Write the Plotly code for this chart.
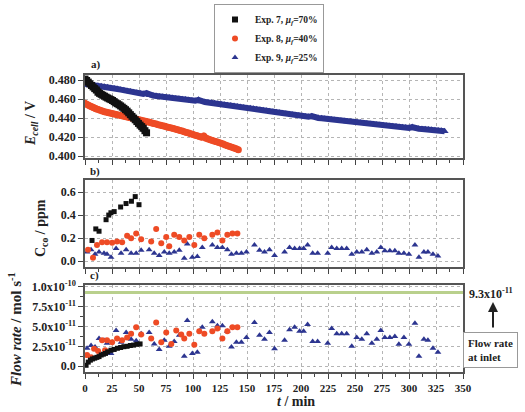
import plotly.graph_objects as go

# ---------------- data ----------------
# Panel a: cell voltage (V)
t_e9 = [i * 3 for i in range(112)]
e_exp9 = [.4760, .4756, .4750, .4745, .4741, .4735, .4729, .4723, .4717, .4711,
          .4705, .4699, .4692, .4686, .4679, .4672, .4666, .4660, .4654, .4662,
          .4641, .4637, .4633, .4628, .4624, .4620, .4616, .4612, .4607, .4603,
          .4599, .4595, .4591, .4586, .4582, .4592, .4573, .4569, .4564, .4560,
          .4555, .4550, .4545, .4541, .4536, .4531, .4526, .4521, .4517, .4512,
          .4507, .4502, .4497, .4492, .4487, .4482, .4477, .4472, .4466, .4461,
          .4456, .4451, .4446, .4440, .4435, .4430, .4426, .4422, .4417, .4413,
          .4420, .4405, .4401, .4397, .4393, .4389, .4385, .4380, .4376, .4372,
          .4368, .4364, .4361, .4357, .4354, .4350, .4346, .4342, .4338, .4334,
          .4330, .4327, .4324, .4320, .4317, .4314, .4311, .4307, .4304, .4300,
          .4297, .4306, .4291, .4288, .4285, .4282, .4279, .4276, .4273, .4270,
          .4266, .4262]

t_e8 = [i * 2 for i in range(72)]
e_exp8 = [.4555, .4543, .4530, .4520, .4508, .4497, .4489, .4482, .4475, .4467,
          .4460, .4455, .4450, .4445, .4440, .4435, .4430, .4425, .4419, .4413,
          .4408, .4403, .4397, .4392, .4387, .4382, .4377, .4371, .4366, .4361,
          .4355, .4349, .4343, .4337, .4331, .4325, .4319, .4313, .4307, .4301,
          .4295, .4289, .4283, .4277, .4270, .4263, .4256, .4249, .4242, .4235,
          .4228, .4220, .4213, .4205, .4199, .4212, .4187, .4180, .4172, .4165,
          .4157, .4150, .4142, .4134, .4126, .4118, .4110, .4102, .4094, .4086,
          .4078, .4068]

t_e7 = [i * 1.5 for i in range(39)]
e_exp7 = [.4810, .4795, .4778, .4760, .4743, .4727, .4710, .4695, .4672, .4660,
          .4650, .4640, .4630, .4620, .4611, .4602, .4594, .4585, .4573, .4560,
          .4551, .4540, .4528, .4515, .4502, .4488, .4473, .4455, .4436, .4418,
          .4400, .4382, .4363, .4344, .4326, .4310, .4293, .4267, .4245]

# Panel b: CO concentration (ppm)
t_c7 = [6.5, 10, 13, 19.5, 22, 24, 27, 33, 38, 43, 46.5, 50]
c_exp7 = [0.18, 0.28, 0.26, 0.36, 0.40, 0.42, 0.43, 0.47, 0.50, 0.52, 0.56, 0.49]

t_c8 = [2.8, 7.4, 11.1, 15.8, 20.4, 25.1, 29.7, 34.4, 39.0, 42.7,
        47.4, 52.0, 61.3, 65.9, 70.6, 75.2, 78.0, 82.6, 87.3, 91.9,
        96.6, 101.2, 105.8, 110.5, 117.9, 122.6, 127.2, 131.8, 136.5, 141.1]
c_exp8 = [0.10, 0.03, 0.14, 0.165, 0.165, 0.16, 0.17, 0.165, 0.22, 0.20,
          0.24, 0.19, 0.17, 0.28, 0.155, 0.21, 0.13, 0.23, 0.21, 0.18,
          0.21, 0.14, 0.23, 0.20, 0.23, 0.25, 0.18, 0.23, 0.24, 0.24]

t_c9 = [1.9, 5.6, 9.3, 13.0, 17.6, 20.4, 24.1, 28.8, 33.4, 38.1,
        42.7, 47.4, 52.0, 59.4, 64.1, 68.7, 73.4, 78.0, 82.6, 87.3,
        91.9, 94.7, 99.4, 104.0, 108.6, 117.9, 122.6, 127.2, 131.8, 135.6,
        140.2, 144.8, 149.5, 156.9, 161.6, 166.2, 170.8, 175.5, 184.8, 189.4,
        194.1, 198.7, 202.4, 206.1, 210.8, 215.4, 224.7, 228.4, 233.1, 237.7,
        242.3, 247.0, 251.6, 256.3, 260.9, 265.6, 270.2, 273.9, 277.6, 282.3,
        286.9, 290.6, 295.3, 299.9, 305.5, 309.2, 313.8, 317.5, 322.2, 326.8]
c_exp9 = [0.08, 0.10, 0.06, 0.08, 0.07, 0.06, 0.035, 0.11, 0.07, 0.10,
          0.07, 0.07, 0.095, 0.10, 0.07, 0.05, 0.08, 0.07, 0.08, 0.095,
          0.026, 0.15, 0.035, 0.04, 0.12, 0.14, 0.12, 0.12, 0.10, 0.06,
          0.07, 0.07, 0.08, 0.14, 0.095, 0.08, 0.10, 0.05, 0.08, 0.12,
          0.11, 0.11, 0.11, 0.14, 0.07, 0.07, 0.07, 0.12, 0.11, 0.11,
          0.11, 0.06, 0.08, 0.08, 0.10, 0.07, 0.08, 0.12, 0.09, 0.09,
          0.09, 0.07, 0.07, 0.06, 0.14, 0.035, 0.08, 0.08, 0.06, 0.045]

# Panel c: CO flow rate (units of 1e-11 mol/s)
t_f7 = [1, 3, 5, 7, 9, 11, 13, 15, 17, 19, 21, 24, 27, 30, 33, 36, 39, 42, 45, 48, 51]
f_exp7 = [0.1, 0.5, 0.75, 0.9, 1.0, 1.1, 1.2, 1.4, 1.5, 1.6, 1.8, 2.0, 2.1, 2.25,
          2.35, 2.45, 2.5, 2.6, 2.65, 2.75, 2.8]

t_f8 = [1.9, 5.6, 8.4, 12.1, 15.8, 18.6, 20.4, 25.1, 29.7, 34.4, 39.0, 42.7,
        47.4, 52.0, 61.3, 65.9, 70.6, 75.2, 79.9, 84.5, 89.1, 91.9, 96.6,
        101.2, 105.8, 110.5, 117.9, 122.6, 127.2, 131.8, 136.5, 141.1]
f_exp8 = [1.4, 1.1, 2.2, 1.9, 3.25, 2.0, 3.25, 3.0, 3.5, 3.25, 3.6, 4.1,
          4.9, 4.0, 3.5, 5.5, 3.0, 4.25, 2.8, 4.5, 4.0, 3.5, 4.1,
          2.7, 4.4, 4.1, 4.4, 4.75, 3.5, 4.4, 4.9, 4.9]

t_f9 = t_c9
f_exp9 = [2.25, 2.6, 2.4, 3.5, 3.25, 2.9, 1.6, 4.5, 3.0, 4.25,
          3.4, 3.2, 4.1, 4.25, 2.8, 2.1, 3.25, 2.5, 3.1, 3.9,
          1.25, 5.75, 1.6, 1.75, 4.9, 5.6, 5.1, 5.1, 4.4, 2.4,
          3.0, 3.0, 3.6, 5.5, 3.9, 3.4, 4.25, 2.2, 3.25, 4.6,
          4.9, 4.4, 4.4, 5.25, 3.1, 3.1, 2.9, 4.75, 4.1, 4.1,
          4.1, 2.5, 3.6, 3.4, 4.1, 2.9, 3.4, 4.5, 3.6, 3.6,
          3.75, 2.75, 3.6, 2.75, 5.4, 1.25, 3.4, 3.25, 2.25, 1.75]

inlet_flow = 9.3  # 1e-11 mol/s

e_ticks = [0.400, 0.420, 0.440, 0.460, 0.480]
c_ticks = [0.0, 0.2, 0.4, 0.6]
f_ticks = [0.0, 2.5, 5.0, 7.5, 10.0]
f_ticklabels = ["0.0", "2.5x10<sup>-11</sup>", "5.0x10<sup>-11</sup>",
                "7.5x10<sup>-11</sup>", "1.0x10<sup>-10</sup>"]

names = ["Exp. 7, <i>μ<sub>f</sub></i>=70%", "Exp. 8, <i>μ<sub>f</sub></i>=40%",
         "Exp. 9, <i>μ<sub>f</sub></i>=25%"]

# ---------------- styles ----------------
BLACK = "#111111"
RED = "#ee4b25"
BLUE = "#2c3590"
SERIF = "Liberation Serif"

fig = go.Figure()

series = [
    (names[2], BLUE, "triangle-up", [(t_e9, e_exp9, 7, 6), (t_c9, c_exp9, 6, 0), (t_f9, f_exp9, 6, 0)]),
    (names[1], RED, "circle", [(t_e8, e_exp8, 7, 6), (t_c8, c_exp8, 6, 0), (t_f8, f_exp8, 6, 0)]),
    (names[0], BLACK, "square", [(t_e7, e_exp7, 7, 6), (t_c7, c_exp7, 5, 0), (t_f7, f_exp7, 5, 0)]),
]
axes = [("x", "y"), ("x2", "y2"), ("x3", "y3")]
for name, color, sym, panels in series:
    for k, (tx, vy, sz, lw) in enumerate(panels):
        fig.add_trace(go.Scatter(
            x=tx, y=vy, mode="lines+markers" if lw else "markers", name=name,
            line=dict(color=color, width=lw if lw else 1),
            marker=dict(color=color, symbol=sym, size=sz, line=dict(width=0)),
            xaxis=axes[k][0], yaxis=axes[k][1], showlegend=False,
        ))
    # legend entry (markers only)
    fig.add_trace(go.Scatter(
        x=[None], y=[None], mode="markers", name=name,
        marker=dict(color=color, symbol=sym, size=6, line=dict(width=0)),
        xaxis="x", yaxis="y", showlegend=True,
    ))

L, R, T, B = 85, 62, 75, 40
W, H = 525, 412
PW, PH = W - L - R, H - T - B


def px(x):
    return (x - L) / PW


def py(y):
    return (H - B - y) / PH


axis_common = dict(
    showline=True, linecolor="#555", linewidth=1.5, mirror=True,
    ticks="outside", ticklen=5, tickcolor="#444", tickwidth=1.2,
    showgrid=True, gridcolor="#b5b5b5", griddash="dot", gridwidth=1,
    zeroline=False,
    tickfont=dict(family=SERIF, size=12, color="#222", weight="bold"),
)
xcommon = dict(axis_common, range=[0, 350], tick0=0, dtick=25,
               minor=dict(dtick=12.5, ticks="outside", ticklen=3, tickcolor="#444", showgrid=False))

fig.update_layout(
    width=W, height=H,
    margin=dict(l=L, r=R, t=T, b=B, autoexpand=False),
    paper_bgcolor="white", plot_bgcolor="white",
    font=dict(family=SERIF, color="#222"),
    xaxis=dict(xcommon, anchor="y", showticklabels=False),
    xaxis2=dict(xcommon, anchor="y2", showticklabels=False),
    xaxis3=dict(xcommon, anchor="y3", showticklabels=True,
                tickfont=dict(family=SERIF, size=11, color="#222", weight="bold")),
    yaxis=dict(axis_common, domain=[py(158), py(75)], range=[0.398, 0.4853],
               tickvals=e_ticks, ticktext=[f"{v:.3f}" for v in e_ticks]),
    yaxis2=dict(axis_common, domain=[py(267), py(180)], range=[-0.05, 0.704],
                tickvals=c_ticks, ticktext=[f"{v:.1f}" for v in c_ticks]),
    yaxis3=dict(axis_common, domain=[0, py(285)], range=[-0.75, 10.25],
                tickvals=f_ticks, ticktext=f_ticklabels,
                minor=dict(dtick=1.25, ticks="outside", ticklen=3, tickcolor="#444", showgrid=False)),
    legend=dict(
        x=px(214), y=py(4), xanchor="left", yanchor="top",
        bordercolor="#999", borderwidth=1, bgcolor="white",
        font=dict(family=SERIF, size=9.5, color="#222", weight="bold"),
        traceorder="reversed", tracegroupgap=0, itemwidth=30,
    ),
    showlegend=True,
)

# inlet flow line
fig.add_shape(type="line", xref="x3 domain", yref="y3", x0=0, x1=1,
              y0=inlet_flow, y1=inlet_flow, line=dict(color="#b9d08c", width=3))

ann_font = dict(family=SERIF, size=12, color="#222", weight="bold")


def label(text, x, y, size, angle=0, xanchor="center", **kw):
    fig.add_annotation(xref="paper", yref="paper", x=px(x), y=py(y), text=text,
                       xanchor=xanchor, yanchor="middle", showarrow=False,
                       textangle=angle, font=dict(ann_font, size=size), **kw)


# panel labels
label("a)", 96, 65, 11)
label("b)", 95, 171, 11)
label("c)", 94, 275, 11)

# axis titles
label("<i>E<sub>cell</sub></i> / V", 31, 124, 14, angle=-90)
label("C<sub>co</sub> / ppm", 41, 228, 14, angle=-90)
label("<i>Flow rate</i> / mol s<sup>-1</sup>", 15, 330, 15, angle=-90)
label("<i>t</i> / min", 296, 401, 14)

# right-side inlet annotation
label("9.3x10<sup>-11</sup>", 467, 293, 12, xanchor="left")
fig.add_annotation(xref="paper", yref="paper", axref="pixel", ayref="pixel",
                   x=px(493), y=py(302), ax=0, ay=27,
                   showarrow=True, arrowhead=2, arrowsize=1, arrowwidth=2,
                   arrowcolor="#222", text="")
label("Flow rate<br>at inlet", 490, 350, 11, align="left",
      bordercolor="#999", borderwidth=1, borderpad=4, bgcolor="white")

fig.write_html("out.html")
